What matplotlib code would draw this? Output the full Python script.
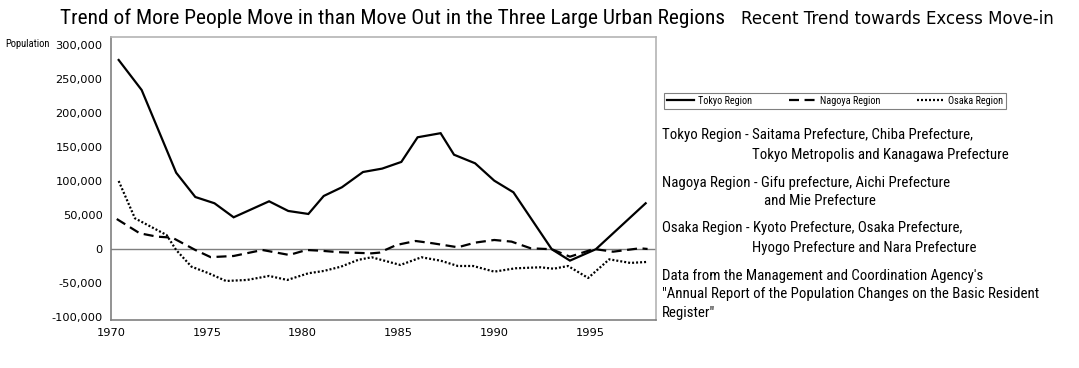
import matplotlib
matplotlib.use("Agg")
import matplotlib.pyplot as plt
from matplotlib import font_manager
from matplotlib.ticker import FuncFormatter, MultipleLocator

# ---------------- data ----------------
tokyo_years = [1970.4, 1971.6, 1973.4, 1974.4, 1975.4, 1976.4, 1978.25, 1979.25, 1980.3,
               1981.1, 1982.05, 1983.15, 1984.15, 1985.15, 1986.0, 1987.2, 1987.9, 1989.0,
               1990.0, 1991.0, 1993.0, 1993.95, 1995.3, 1997.9]
tokyo_values = [277500, 233400, 112000, 76300, 67100, 46500, 70000, 55800, 51400,
                77800, 90600, 113000, 118000, 127800, 164000, 170000, 138400, 125800,
                100300, 83200, -400, -17100, -400, 67100]

nagoya_years = [1970.3, 1971.5, 1972.4, 1973.2, 1974.4, 1975.2, 1976.4, 1977.9, 1979.3,
                1980.2, 1980.9, 1982.0, 1983.6, 1984.0, 1984.9, 1985.9, 1986.8, 1988.1,
                1989.0, 1990.0, 1990.9, 1991.9, 1993.0, 1993.95, 1995.2, 1996.2, 1997.6, 1998.0]
nagoya_values = [44000, 23000, 18100, 16600, -1500, -12000, -10300, -1500, -8800,
                 -1500, -2500, -4900, -6400, -5400, 5900, 11700, 8300, 2500,
                 9300, 13200, 10800, 1000, -400, -11300, 0, -4000, 1000, 0]

osaka_years = [1970.4, 1971.25, 1972.9, 1973.4, 1974.2, 1975.1, 1976.0, 1977.1, 1978.25,
               1979.2, 1980.3, 1981.1, 1982.0, 1982.9, 1983.6, 1985.1, 1986.2, 1987.2,
               1988.1, 1988.9, 1990.0, 1991.1, 1992.4, 1993.1, 1993.85, 1994.9, 1996.0,
               1997.1, 1998.0]
osaka_values = [99800, 45000, 20500, -1500, -26000, -35700, -47000, -45500, -39600,
                -45500, -35700, -32300, -26000, -16000, -12200, -23500, -12200, -17200,
                -25000, -25000, -33300, -28400, -26900, -29000, -25000, -42600, -15200,
                -20500, -19000]

x_ticks = [1970, 1975, 1980, 1985, 1990, 1995]
series_labels = ["Tokyo Region", "Nagoya Region", "Osaka Region"]

title = "Trend of More People Move in than Move Out in the Three Large Urban Regions"
subtitle = "Recent Trend towards Excess Move-in"
notes = [
    ("Tokyo Region - Saitama Prefecture, Chiba Prefecture,", "Tokyo Metropolis and Kanagawa Prefecture"),
    ("Nagoya Region - Gifu prefecture, Aichi Prefecture", "and Mie Prefecture"),
    ("Osaka Region - Kyoto Prefecture, Osaka Prefecture,", "Hyogo Prefecture and Nara Prefecture"),
]
source_lines = ["Data from the Management and Coordination Agency's",
                "\"Annual Report of the Population Changes on the Basic Resident",
                "Register\""]

# ---------------- fonts ----------------
available = {f.name for f in font_manager.fontManager.ttflist}
narrow = "DejaVu Sans"
for cand in ["Liberation Sans Narrow", "DejaVu Sans Condensed", "Roboto Condensed", "Open Sans Condensed"]:
    if cand in available:
        narrow = cand
        break
plt.rcParams['font.family'] = ['DejaVu Sans']

W, H = 1079, 368
fig = plt.figure(figsize=(W / 100, H / 100), dpi=100)

def fx(px):
    return px / W

def fy(py):
    return 1 - py / H

ax_left, ax_right, ax_top, ax_bottom = 111, 656, 37.3, 320
ax = fig.add_axes([fx(ax_left), fy(ax_bottom), (ax_right - ax_left) / W, (ax_bottom - ax_top) / H])

ax.plot(tokyo_years, tokyo_values, color="black", lw=1.6, solid_joinstyle="miter", label=series_labels[0])
ax.plot(nagoya_years, nagoya_values, color="black", lw=1.6, linestyle=(0, (4.5, 2.5)), label=series_labels[1])
ax.plot(osaka_years, osaka_values, color="black", lw=1.6, linestyle=(0, (0.9, 0.9)), label=series_labels[2])

ax.axhline(0, color="#7f7f7f", lw=1.0, zorder=0)
ax.set_xlim(1970, 1998.44)
ax.set_ylim(-104300, 310800)
ax.set_xticks(x_ticks)
ax.yaxis.set_major_locator(MultipleLocator(50000))
ax.yaxis.set_major_formatter(FuncFormatter(lambda v, p: f"{int(round(v)):,}"))
ax.set_yticks(range(-100000, 300001, 50000))
ax.tick_params(axis="both", length=0, labelsize=8.2, colors="black")
ax.tick_params(axis="y", pad=6)
ax.tick_params(axis="x", pad=6)
for side in ["top", "right"]:
    ax.spines[side].set_color("#b4b4b4")
    ax.spines[side].set_linewidth(1.2)
for side in ["left", "bottom"]:
    ax.spines[side].set_color("#808080")
    ax.spines[side].set_linewidth(1.2)

fig.text(fx(5), fy(44), "Population", fontsize=7.6, family=narrow, va="center", ha="left")

fig.text(fx(60), fy(18), title, fontsize=15.4, family=narrow, va="center", ha="left")
fig.text(fx(741), fy(19), subtitle, fontsize=12, family="DejaVu Sans", va="center", ha="left")

handles, labels = ax.get_legend_handles_labels()
leg = fig.legend(handles, labels, loc="center", ncol=3,
                 bbox_to_anchor=(fx(664), fy(110), 342 / W, 18 / H), mode="expand",
                 frameon=True, fancybox=False, edgecolor="#808080", framealpha=1,
                 prop={"family": narrow, "size": 7.3}, handlelength=2.7, handletextpad=0.4,
                 borderpad=0.3, borderaxespad=0, columnspacing=1.0)
leg.get_frame().set_linewidth(0.8)
leg._legend_box.set_offset  # keep default packing

note_size = 10.75
line_y = [(135, 154.5), (182.7, 201), (228.3, 247.7)]
indent = [751.7, 764, 751.7]
for (l1, l2), (y1, y2), ind in zip(notes, line_y, indent):
    fig.text(fx(662), fy(y1), l1, fontsize=note_size, family=narrow, va="center", ha="left")
    fig.text(fx(ind), fy(y2), l2, fontsize=note_size, family=narrow, va="center", ha="left")
for s, y in zip(source_lines, [275.7, 294, 312.7]):
    fig.text(fx(662), fy(y), s, fontsize=note_size, family=narrow, va="center", ha="left")

fig.savefig("out.png", dpi=100)
